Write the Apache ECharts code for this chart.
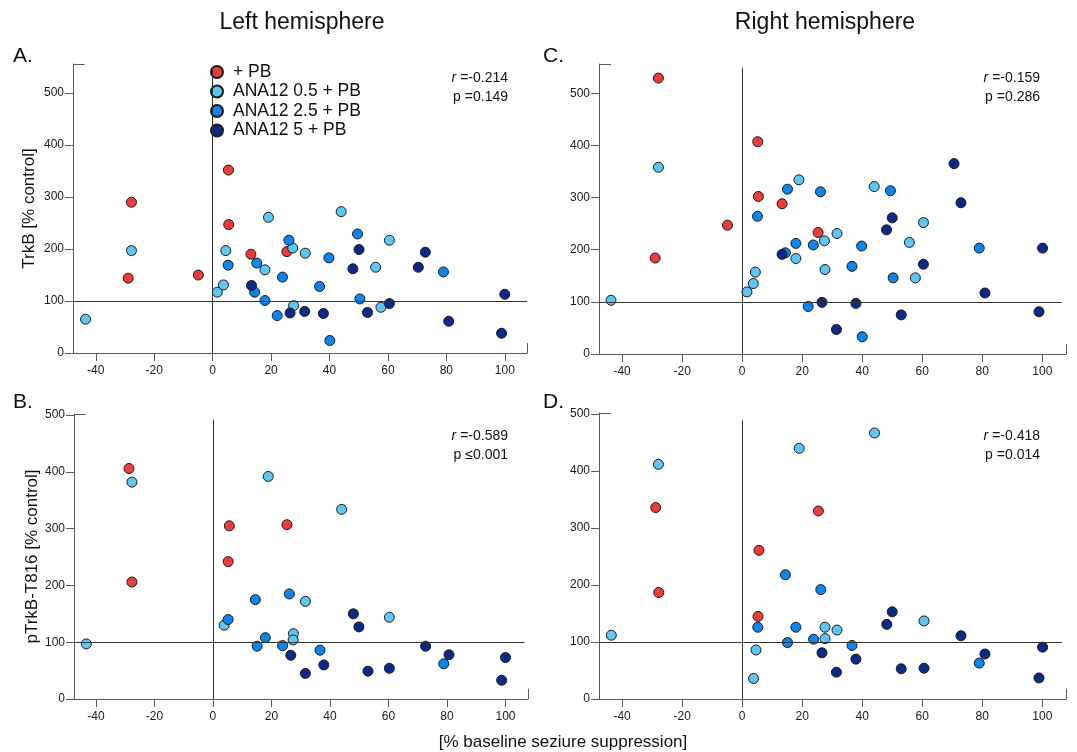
<!DOCTYPE html>
<html>
<head>
<meta charset="utf-8">
<script src="https://cdn.jsdelivr.net/npm/echarts@6/dist/echarts.min.js"></script>
<style>html,body{margin:0;padding:0;background:#fff}#c{width:1077px;height:752px}</style>
</head>
<body>
<div id="c"></div>
<script>
// ---- data ----
const groupNames = ['+ PB', 'ANA12 0.5 + PB', 'ANA12 2.5 + PB', 'ANA12 5 + PB'];
const xTicks = [-40, -20, 0, 20, 40, 60, 80, 100];
const yTicks = [0, 100, 200, 300, 400, 500];

// Panel A: Left hemisphere, TrkB
const A_pb   = [[-27.8,290],[-28.9,144],[-4.9,150],[5.4,352],[5.5,247],[13.1,190],[25.4,195]];
const A_05   = [[-43.5,65],[-27.8,197],[1.6,117],[3.7,131],[4.5,197],[17.9,160],[19.1,261],[27.4,202],[27.7,91],[31.7,192],[44,272],[55.8,165],[57.6,88],[60.5,217]];
const A_25   = [[5.3,169],[14.4,117],[15.1,173],[17.9,101],[22.1,72],[23.9,146],[26.1,217],[36.6,128],[39.8,183],[40.1,24],[49.6,229],[50.4,104],[79,156]];
const A_5    = [[13.3,130],[26.5,77],[31.5,80],[37.9,76],[48,162],[50.1,199],[53,78],[60.5,95],[70.4,165],[72.8,194],[80.8,61],[98.9,38],[100,113]];
// Panel C: Right hemisphere, TrkB
const C_pb   = [[-27.9,529],[-29,184],[-4.9,247],[5.2,407],[5.4,302],[13.3,288],[25.3,233]];
const C_05   = [[-43.7,103],[-27.9,358],[1.6,119],[3.7,135],[4.4,157],[17.9,183],[18.9,334],[27.4,217],[27.6,162],[31.6,231],[44,321],[55.7,214],[57.7,146],[60.4,252]];
const C_25   = [[5.1,264],[14.4,194],[15.1,316],[17.9,212],[22,91],[23.7,209],[26.1,311],[36.6,168],[39.8,207],[40,33],[49.4,313],[50.3,146],[79,203]];
const C_5    = [[13.3,191],[26.6,99],[31.4,47],[37.9,97],[48.1,238],[50,261],[53,75],[60.4,172],[70.6,365],[72.9,290],[80.9,117],[98.9,81],[100.1,203]];
// Panel B: Left hemisphere, pTrkB-T816
const B_pb   = [[-28.7,406],[-27.7,206],[5.6,305],[5.2,242],[25.3,307]];
const B_05   = [[-43.3,97],[-27.7,382],[3.8,130],[18.9,392],[27.5,115],[27.4,104],[31.6,172],[44,334],[60.3,144]];
const B_25   = [[5.2,140],[14.5,175],[15.1,93],[17.9,108],[23.8,94],[26.1,185],[36.6,86],[78.9,62]];
const B_5    = [[26.6,77],[31.6,45],[37.9,60],[48,150],[49.9,127],[53,49],[60.3,54],[72.7,93],[80.7,78],[98.7,33],[100,73]];
// Panel D: Right hemisphere, pTrkB-T816
const D_pb   = [[-28.8,336],[-27.8,187],[5.6,261],[5.3,145],[25.4,330]];
const D_05   = [[-43.6,112],[-27.9,412],[4.6,86],[3.8,36],[19,440],[27.6,126],[27.6,106],[31.6,121],[44.1,467],[60.6,137]];
const D_25   = [[5.2,126],[14.4,218],[15.1,99],[17.9,126],[23.8,105],[26.2,192],[36.6,94],[79,63]];
const D_5    = [[26.6,81],[31.4,47],[37.9,70],[48.2,131],[50,153],[53,53],[60.6,54],[72.9,111],[80.9,79],[98.9,37],[100.1,91]];

const statsR = ['-0.214', '-0.589', '-0.159', '-0.418'];
const statsP = ['=0.149', '\u22640.001', '=0.286', '=0.014'];

// ---- style ----
const FONT = "'Liberation Sans', Arial, sans-serif";
const colors = ['#EE3B3B', '#5EC6F2', '#0A86EE', '#0B2A88'];
const axisColor = '#5a5a5a';

const panels = [
  {id:'A', data:[A_pb,A_05,A_25,A_5], grid:{left:73, top:64, width:454, height:289}, x:[-47.8,107.6], y:[0,556], yName:'TrkB [% control]', nameGap:35, vTop:548, hEnd:107.6, tick:19, statX:508, statY:77},
  {id:'B', data:[B_pb,B_05,B_25,B_5], grid:{left:74, top:414, width:454, height:285}, x:[-47.5,107.7], y:[0,502], yName:'pTrkB-T816 [% control]', nameGap:33, vTop:492, hEnd:106.5, tick:18, statX:508, statY:435},
  {id:'C', data:[C_pb,C_05,C_25,C_5], grid:{left:599, top:64, width:467, height:290}, x:[-47.7,107.9], y:[0,556], yName:'', nameGap:35, vTop:549, hEnd:106.5, tick:19, statX:1040, statY:77},
  {id:'D', data:[D_pb,D_05,D_25,D_5], grid:{left:599, top:413, width:467, height:286}, x:[-47.7,107.9], y:[0,502], yName:'', nameGap:35, vTop:489, hEnd:106.5, tick:18, statX:1040, statY:435}
];

const grids = [], xAxes = [], yAxes = [], series = [], graphics = [];

panels.forEach((p, i) => {
  grids.push(Object.assign({containLabel:false}, p.grid));
  xAxes.push({
    type:'value', gridIndex:i, min:p.x[0], max:p.x[1],
    axisLine:{show:true, onZero:false, lineStyle:{color:axisColor, width:1}},
    axisTick:{show:true, length:8, customValues:xTicks, lineStyle:{color:axisColor}},
    axisLabel:{customValues:xTicks, fontSize:12, color:'#1a1a1a', fontFamily:FONT, margin:12},
    splitLine:{show:false}
  });
  yAxes.push({
    type:'value', gridIndex:i, min:p.y[0], max:p.y[1],
    name:p.yName, nameLocation:'middle', nameGap:p.nameGap,
    nameTextStyle:{fontSize:17, color:'#111', fontFamily:FONT},
    axisLine:{show:true, onZero:false, lineStyle:{color:axisColor, width:1}},
    axisTick:{show:true, length:8, customValues:yTicks, lineStyle:{color:axisColor}},
    axisLabel:{customValues:yTicks, fontSize:12, color:'#1a1a1a', fontFamily:FONT, margin:9},
    splitLine:{show:false}
  });
  // reference lines and frame corner ticks
  series.push({
    type:'scatter', xAxisIndex:i, yAxisIndex:i, data:[], silent:true,
    markLine:{
      silent:true, symbol:['none','none'], label:{show:false}, animation:false,
      lineStyle:{color:'#333', width:1, type:'solid'},
      emphasis:{disabled:true},
      data:[
        [{coord:[0, p.y[0]]}, {coord:[0, p.vTop]}],
        [{coord:[p.x[0], 100]}, {coord:[p.hEnd, 100]}],
        [{coord:[p.x[0], p.y[1]], lineStyle:{color:axisColor}}, {coord:[p.x[0] + 4, p.y[1]]}],
        [{coord:[p.x[1], p.y[0]], lineStyle:{color:axisColor}}, {coord:[p.x[1], p.tick]}]
      ]
    }
  });
  p.data.forEach((d, g) => {
    series.push({
      type:'scatter', name:groupNames[g], xAxisIndex:i, yAxisIndex:i, data:d,
      symbol:'circle', symbolSize:10,
      itemStyle:{color:colors[g], borderColor:'#1a1a1a', borderWidth:1, opacity:1}
    });
  });
  graphics.push({
    type:'text', x:p.statX, y:p.statY - 8,
    style:{
      text:'{i|r} =' + statsR[i] + '\np ' + statsP[i],
      align:'right', verticalAlign:'top',
      font:'14px ' + FONT, fill:'#111', lineHeight:19,
      rich:{i:{fontStyle:'italic', fontSize:14, fontFamily:FONT, fill:'#111'}}
    }
  });
});

// panel letters and titles
const letterPos = [[13,56,'A.'],[13,402,'B.'],[543,56,'C.'],[543,402,'D.']];
letterPos.forEach(l => graphics.push({type:'text', x:l[0], y:l[1], style:{text:l[2], font:'21px ' + FONT, fill:'#111', verticalAlign:'middle'}}));
graphics.push({type:'text', x:302, y:23, style:{text:'Left hemisphere', font:'23px ' + FONT, fill:'#111', align:'center', verticalAlign:'middle'}});
graphics.push({type:'text', x:825, y:23, style:{text:'Right hemisphere', font:'23px ' + FONT, fill:'#111', align:'center', verticalAlign:'middle'}});
graphics.push({type:'text', x:563, y:742, style:{text:'[% baseline seziure suppression]', font:'17px ' + FONT, fill:'#111', align:'center', verticalAlign:'middle'}});

const chart = echarts.init(document.getElementById('c'), null, {renderer:'canvas'});
chart.setOption({
  animation:false,
  backgroundColor:'#fff',
  textStyle:{fontFamily:FONT},
  legend:{
    data:groupNames, orient:'vertical', left:210, top:63, padding:0,
    icon:'circle', itemWidth:22, itemHeight:12, itemGap:1.5,
    textStyle:{fontSize:17.5, color:'#111', fontFamily:FONT}
  },
  grid:grids, xAxis:xAxes, yAxis:yAxes, series:series, graphic:graphics
});
</script>
</body>
</html>
